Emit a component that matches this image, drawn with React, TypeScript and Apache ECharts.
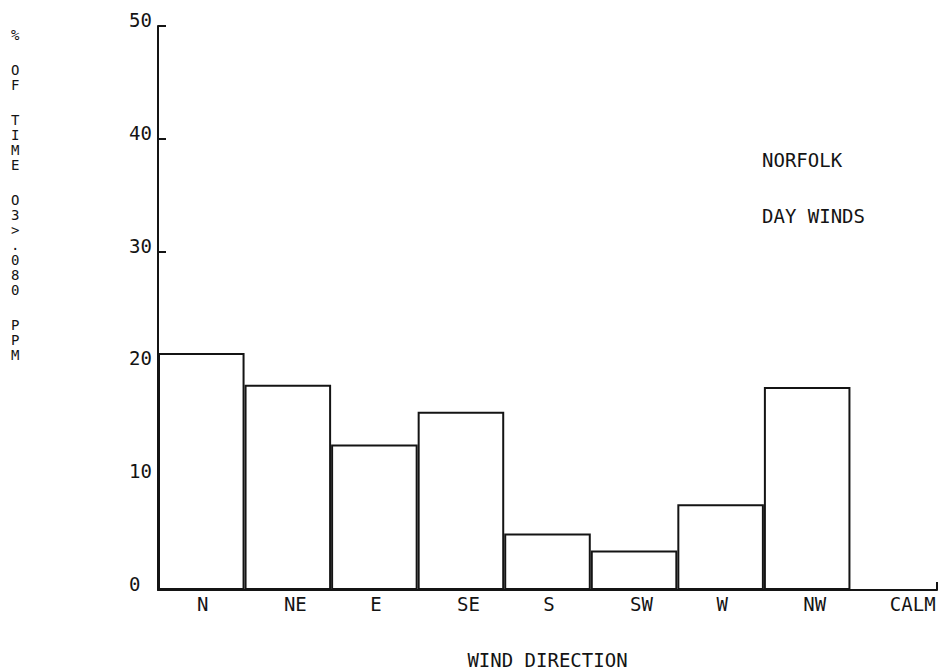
import React, { useEffect, useRef } from "react";
import * as echarts from "echarts";

const categories = ["N", "NE", "E", "SE", "S", "SW", "W", "NW", "CALM"];
const percentOfTime = [21.0, 18.2, 12.9, 15.8, 5.0, 3.5, 7.6, 18.0, 0];
const yTitleWords = ["%", "OF", "TIME", "O3>.080", "PPM"];
const notes = ["NORFOLK", "DAY WINDS"];
const xTitle = "WIND DIRECTION";

const FONT = "'DejaVu Sans Mono', 'Liberation Mono', monospace";
const INK = "#141414";
const FS = 19;

export default function App() {
  const ref = useRef<HTMLDivElement>(null);
  useEffect(() => {
    if (!ref.current) return;
    const chart = echarts.init(ref.current, null, { renderer: "svg" });
    const rich: Record<string, any> = {};
    [1, 2, 3, 4].forEach((n) => {
      rich["l" + n] = {
        color: INK,
        fontFamily: FONT,
        fontSize: FS,
        padding: [0, 0, 0, Math.max(0, Math.round(n * FS * 0.602 - 8))],
      };
    });
    const yTitleText = yTitleWords
      .map((w) => w.split("").map((c) => `{a|${c}}`).join("\n"))
      .join("\n{b| }\n");
    chart.setOption({
      animation: false,
      backgroundColor: "#ffffff",
      grid: {
        left: 158,
        right: 3,
        top: 26,
        bottom: 82,
        containLabel: false,
        outerBoundsMode: "none",
      },
      xAxis: [
        {
          type: "category",
          data: categories,
          position: "bottom",
          boundaryGap: true,
          axisLine: { show: true, lineStyle: { color: INK, width: 2 } },
          axisTick: { show: false },
          axisLabel: {
            interval: 0,
            hideOverlap: false,
            color: INK,
            fontFamily: FONT,
            fontSize: FS,
            margin: 4,
            formatter: (v: string) => `{l${v.length}|${v}}`,
            rich,
          },
          name: xTitle,
          nameLocation: "middle",
          nameGap: 62,
          nameTextStyle: { color: INK, fontFamily: FONT, fontSize: FS, lineHeight: 16 },
        },
        {
          type: "value",
          min: 0,
          max: 9,
          interval: 9,
          position: "bottom",
          axisLine: { show: false },
          axisTick: { show: true, inside: true, length: 8, lineStyle: { color: INK, width: 2 } },
          axisLabel: { show: false },
          splitLine: { show: false },
        },
      ],
      yAxis: {
        type: "value",
        min: 0,
        max: 50,
        interval: 10,
        axisLine: { show: true, lineStyle: { color: INK, width: 2 } },
        axisTick: { show: true, inside: true, length: 8, lineStyle: { color: INK, width: 2 } },
        axisLabel: {
          color: INK,
          fontFamily: FONT,
          fontSize: FS,
          align: "left",
          margin: 29,
          verticalAlign: "bottom",
          lineHeight: 12,
        },
        splitLine: { show: false },
      },
      graphic: [
        {
          type: "text",
          left: 11,
          top: 28,
          style: {
            text: yTitleText,
            fill: INK,
            align: "center",
            rich: {
              a: { fontFamily: FONT, fontSize: 14, lineHeight: 15, fill: INK },
              b: { fontFamily: FONT, fontSize: 14, lineHeight: 20, fill: INK },
            },
          },
        },
        {
          type: "text",
          left: 762,
          top: 150,
          style: { text: notes[0], font: `${FS}px ${FONT}`, fill: INK },
        },
        {
          type: "text",
          left: 762,
          top: 206,
          style: { text: notes[1], font: `${FS}px ${FONT}`, fill: INK },
        },
      ],
      series: [
        {
          type: "bar",
          xAxisIndex: 0,
          data: percentOfTime,
          barCategoryGap: "0%",
          barWidth: "100%",
          itemStyle: { color: "#ffffff", borderColor: INK, borderWidth: 2 },
          silent: true,
        },
      ],
    });
    return () => chart.dispose();
  }, []);
  return (
    <div
      ref={ref}
      style={{ position: "fixed", left: 0, top: 0, width: 940, height: 672, background: "#fff" }}
    />
  );
}
